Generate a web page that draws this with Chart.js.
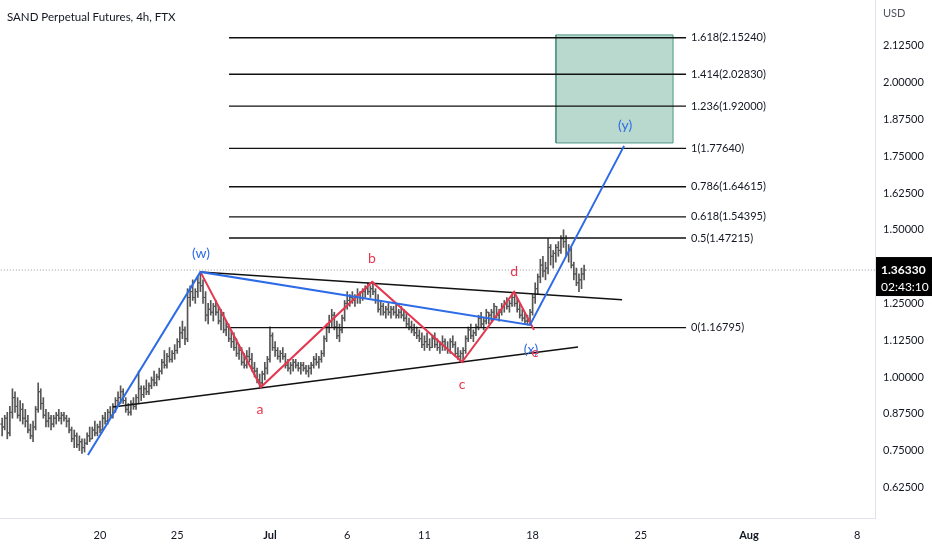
<!DOCTYPE html>
<html>
<head>
<meta charset="utf-8">
<script src="https://cdn.jsdelivr.net/npm/chart.js@4.4.1/dist/chart.umd.min.js"></script>
<style>
  html, body { margin: 0; padding: 0; background: #fff; }
  canvas { display: block; }
</style>
</head>
<body>
<canvas id="sandChart" width="932" height="550"></canvas>
<script>
// SAND perpetual, 4h bars. Time axis is in days counted from Jun 20 00:00.
const barStartDay = -38 / 6; // first bar: Jun 13 16:00

const highs = [
    0.86,0.87,0.88,0.90,0.96,0.95,0.93,0.92,0.91,0.89,
    0.87,0.84,0.85,0.90,0.98,0.96,0.93,0.89,0.88,0.87,
    0.87,0.88,0.89,0.88,0.88,0.87,0.86,0.83,0.82,0.81,
    0.80,0.79,0.79,0.81,0.83,0.83,0.85,0.84,0.85,
    0.87,0.88,0.89,0.90,0.91,0.93,0.95,0.97,0.96,0.93,
    0.91,0.92,0.93,0.94,1.02,0.97,0.97,0.99,0.98,1.00,
    1.02,1.01,1.03,1.06,1.09,1.08,1.10,1.09,1.11,1.13,
    1.17,1.19,1.17,1.30,1.31,1.33,1.30,1.34,1.357,
    1.33,1.29,1.25,1.26,1.25,1.26,1.24,1.23,1.22,1.19,
    1.18,1.16,1.15,1.13,1.11,1.10,1.08,1.09,1.10,1.08,
    1.05,1.03,1.01,1.02,
    1.05,1.07,1.17,1.15,1.12,1.10,1.09,1.10,1.08,1.06,
    1.05,1.06,1.06,1.05,1.05,1.05,1.04,1.04,1.05,1.07,
    1.08,1.07,1.09,1.14,1.18,1.21,1.23,1.22,1.19,1.18,
    1.21,1.26,1.29,1.28,1.29,1.28,1.30,1.29,1.30,1.31,
    1.32,1.31,1.323,
    1.30,1.28,1.26,1.25,1.24,1.25,1.24,1.24,1.25,1.23,
    1.24,1.23,1.22,1.20,1.19,1.18,1.17,1.16,1.15,1.14,
    1.15,1.13,1.14,1.15,1.13,1.12,1.14,1.13,1.12,1.13,
    1.14,1.12,1.10,1.09,1.10,
    1.14,1.17,1.18,1.16,1.18,1.21,1.22,1.20,1.23,1.22,
    1.23,1.25,1.24,1.23,1.25,1.26,1.27,1.26,1.28,1.289,
    1.27,1.25,1.23,1.22,1.21,
    1.23,1.28,1.32,1.35,1.40,1.41,1.39,1.47,1.45,1.43,
    1.45,1.46,1.48,1.50,1.48,1.45,1.44,1.39,1.37,1.35,
    1.37,1.38
];
const lows = [
    0.80,0.82,0.79,0.80,0.86,0.88,0.86,0.85,0.84,0.83,
    0.81,0.79,0.78,0.82,0.88,0.89,0.86,0.83,0.83,0.82,
    0.83,0.84,0.85,0.84,0.85,0.83,0.81,0.78,0.76,0.76,
    0.75,0.74,0.745,0.77,0.78,0.79,0.80,0.80,0.81,
    0.82,0.84,0.84,0.86,0.86,0.88,0.90,0.91,0.91,0.88,
    0.87,0.87,0.89,0.89,0.91,0.92,0.93,0.94,0.94,0.96,
    0.97,0.97,0.99,1.01,1.03,1.03,1.05,1.05,1.06,1.08,
    1.10,1.13,1.11,1.12,1.24,1.26,1.25,1.27,1.29,
    1.25,1.19,1.18,1.21,1.19,1.21,1.18,1.16,1.15,1.14,
    1.12,1.10,1.09,1.07,1.06,1.04,1.03,1.03,1.05,1.02,
    1.00,0.98,0.966,0.97,
    0.99,1.01,1.05,1.09,1.07,1.06,1.05,1.06,1.03,1.02,
    1.01,1.02,1.03,1.02,1.01,1.02,1.01,1.00,1.01,1.03,
    1.04,1.03,1.05,1.07,1.12,1.15,1.17,1.16,1.13,1.12,
    1.15,1.19,1.23,1.24,1.25,1.24,1.25,1.25,1.26,1.27,
    1.28,1.27,1.28,
    1.25,1.22,1.21,1.21,1.20,1.21,1.20,1.21,1.20,1.20,
    1.20,1.19,1.17,1.16,1.15,1.14,1.13,1.12,1.10,1.09,
    1.10,1.09,1.10,1.10,1.09,1.08,1.09,1.09,1.08,1.08,
    1.10,1.07,1.06,1.05,1.051,
    1.08,1.12,1.13,1.12,1.14,1.16,1.17,1.16,1.18,1.18,
    1.19,1.20,1.20,1.19,1.21,1.22,1.23,1.22,1.24,1.24,
    1.22,1.20,1.19,1.18,1.177,
    1.18,1.21,1.25,1.28,1.32,1.34,1.33,1.35,1.38,1.37,
    1.39,1.41,1.42,1.44,1.41,1.39,1.37,1.33,1.31,1.29,
    1.30,1.33
];
const closes = [
    0.83,0.86,0.81,0.88,0.93,0.90,0.87,0.89,0.86,0.85,
    0.82,0.80,0.83,0.89,0.95,0.91,0.87,0.85,0.86,0.84,
    0.86,0.87,0.86,0.87,0.86,0.85,0.82,0.79,0.80,0.77,
    0.78,0.76,0.775,0.80,0.79,0.82,0.81,0.83,0.82,
    0.86,0.85,0.88,0.87,0.90,0.92,0.93,0.95,0.92,0.89,
    0.88,0.91,0.90,0.93,0.96,0.94,0.96,0.95,0.97,0.99,
    0.98,1.00,1.02,1.05,1.04,1.07,1.06,1.08,1.09,1.12,
    1.15,1.16,1.13,1.27,1.29,1.27,1.29,1.32,1.31,
    1.27,1.21,1.23,1.22,1.24,1.22,1.19,1.21,1.16,1.17,
    1.13,1.12,1.10,1.08,1.09,1.05,1.04,1.07,1.06,1.03,
    1.02,0.99,0.98,1.01,
    1.03,1.06,1.14,1.10,1.09,1.07,1.08,1.07,1.04,1.03,
    1.04,1.05,1.04,1.03,1.04,1.03,1.02,1.03,1.04,1.06,
    1.05,1.06,1.08,1.13,1.17,1.19,1.21,1.17,1.14,1.16,
    1.20,1.25,1.26,1.27,1.26,1.27,1.28,1.27,1.29,1.30,
    1.29,1.30,1.29,
    1.26,1.23,1.24,1.22,1.23,1.22,1.23,1.22,1.21,1.22,
    1.21,1.20,1.18,1.17,1.16,1.15,1.14,1.13,1.11,1.12,
    1.11,1.10,1.13,1.11,1.10,1.11,1.12,1.10,1.09,1.12,
    1.11,1.08,1.07,1.08,1.09,
    1.13,1.16,1.14,1.15,1.17,1.20,1.18,1.19,1.22,1.21,
    1.22,1.24,1.21,1.22,1.24,1.25,1.24,1.25,1.27,1.25,
    1.23,1.21,1.20,1.19,1.19,
    1.22,1.27,1.30,1.34,1.38,1.36,1.37,1.44,1.41,1.42,
    1.44,1.43,1.47,1.46,1.42,1.43,1.38,1.35,1.32,1.33,
    1.35,1.3633
];
const firstOpen = 0.84;

const xTickDays = [0, 5, 11, 16, 21, 28, 35, 42, 49];
const xTickLabels = ['20', '25', 'Jul', '6', '11', '18', '25', 'Aug', '8'];
const yTicks = [0.625, 0.75, 0.875, 1.0, 1.125, 1.25, 1.375, 1.5, 1.625, 1.75, 1.875, 2.0, 2.125];

// Fibonacci extension levels
const fibRatios = ['0', '0.5', '0.618', '0.786', '1', '1.236', '1.414', '1.618'];
const fibPrices = [1.16795, 1.47215, 1.54395, 1.64615, 1.7764, 1.92, 2.0283, 2.1524];
const fibSpanDays = [8.35, 37.93];

// Target zone
const zoneDays = [29.51, 37.09];
const zonePrices = [1.795, 2.162];

// Wave counts
const blueWaveDays = [-0.78, 6.5, 27.83, 33.92];
const blueWavePrices = [0.735, 1.357, 1.177, 1.785];
const blueLabels = ['(w)', '(x)', '(y)'];
const blueLabelDays = [6.54, 27.9, 33.98];
const blueLabelPrices = [1.421, 1.095, 1.853];

const redWaveDays = [6.5, 10.42, 17.61, 23.43, 26.80, 28.09];
const redWavePrices = [1.357, 0.966, 1.323, 1.051, 1.289, 1.160];
const redLabels = ['a', 'b', 'c', 'd', 'e'];
const redLabelDays = [10.36, 17.6, 23.43, 26.8, 28.16];
const redLabelPrices = [0.891, 1.401, 0.973, 1.360, 1.082];

// Triangle boundaries
const upperEdgeDays = [6.5, 33.79];
const upperEdgePrices = [1.357, 1.262];
const lowerEdgeDays = [0.84, 30.94];
const lowerEdgePrices = [0.898, 1.102];

const countdown = '02:43:10';

const FONT = "'Lato', 'Open Sans', sans-serif";
const BAR_COLOR = '#555555';
const BLUE = '#2e6be6';
const RED = '#e5374f';

const barDays = closes.map((c, i) => barStartDay + i / 6);
const opens = closes.map((c, i) => i === 0 ? firstOpen : closes[i - 1]);
const lastClose = closes[closes.length - 1];

const pts = (days, prices) => days.map((d, i) => ({ x: d, y: prices[i] }));

function lineSet(data, color, width, extra) {
    return Object.assign({
        type: 'line',
        data: data,
        borderColor: color,
        borderWidth: width,
        pointRadius: 0,
        fill: false,
        tension: 0
    }, extra || {});
}

const datasets = [
    // high-low stems
    {
        type: 'bar',
        data: barDays.map((d, i) => ({ x: d, y: [lows[i], highs[i]] })),
        backgroundColor: BAR_COLOR,
        borderWidth: 0,
        barThickness: 1,
        grouped: false,
        order: 5
    },
    // open ticks (left) and close ticks (right)
    {
        type: 'line',
        data: barDays.map((d, i) => ({ x: d - 0.065, y: opens[i] })),
        showLine: false,
        pointStyle: 'line',
        pointRadius: 1,
        pointBorderWidth: 1,
        pointBorderColor: BAR_COLOR,
        order: 5
    },
    {
        type: 'line',
        data: barDays.map((d, i) => ({ x: d + 0.065, y: closes[i] })),
        showLine: false,
        pointStyle: 'line',
        pointRadius: 1,
        pointBorderWidth: 1,
        pointBorderColor: BAR_COLOR,
        order: 5
    },
    // last price dotted line
    lineSet(pts([-7, 51], [lastClose, lastClose]), '#9598a1', 1, { borderDash: [1, 2], order: 6 }),
    // target zone
    lineSet(pts(zoneDays, [zonePrices[1], zonePrices[1]]), 'rgba(0,0,0,0)', 0,
        { fill: { value: zonePrices[0] }, backgroundColor: '#b9d9cf', order: 9 }),
    lineSet(pts([zoneDays[0], zoneDays[1], zoneDays[1], zoneDays[0], zoneDays[0]],
        [zonePrices[0], zonePrices[0], zonePrices[1], zonePrices[1], zonePrices[0]]), '#4f9585', 1, { order: 8 }),
    // triangle edges
    lineSet(pts(upperEdgeDays, upperEdgePrices), '#111', 1.5, { order: 3 }),
    lineSet(pts(lowerEdgeDays, lowerEdgePrices), '#111', 1.5, { order: 3 }),
    // wave paths
    lineSet(pts(redWaveDays, redWavePrices), RED, 2, { order: 2 }),
    lineSet(pts(blueWaveDays, blueWavePrices), BLUE, 2, { order: 1 })
];

// fib level lines
fibPrices.forEach(p => {
    datasets.push(lineSet(pts(fibSpanDays, [p, p]), '#111', 1.3, { order: 4 }));
});

const overlayPlugin = {
    id: 'overlay',
    afterDatasetsDraw(chart) {
        const { ctx, scales: { x, y } } = chart;
        ctx.save();

        // fib labels
        ctx.font = '11px ' + FONT;
        ctx.fillStyle = '#131722';
        ctx.textAlign = 'left';
        ctx.textBaseline = 'middle';
        const labelX = x.getPixelForValue(fibSpanDays[1]) + 5;
        fibPrices.forEach((p, i) => {
            ctx.fillText(`${fibRatios[i]}(${p.toFixed(5)})`, labelX, y.getPixelForValue(p));
        });

        // wave labels
        ctx.textAlign = 'center';
        ctx.font = '14px ' + FONT;
        ctx.fillStyle = BLUE;
        blueLabels.forEach((t, i) => {
            ctx.fillText(t, x.getPixelForValue(blueLabelDays[i]), y.getPixelForValue(blueLabelPrices[i]));
        });
        ctx.fillStyle = RED;
        redLabels.forEach((t, i) => {
            ctx.fillText(t, x.getPixelForValue(redLabelDays[i]), y.getPixelForValue(redLabelPrices[i]));
        });
        ctx.restore();
    },
    afterDraw(chart) {
        const { ctx, chartArea, scales: { y } } = chart;
        ctx.save();

        // title
        ctx.font = '11.5px ' + FONT;
        ctx.fillStyle = '#131722';
        ctx.textAlign = 'left';
        ctx.textBaseline = 'middle';
        ctx.fillText('SAND Perpetual Futures, 4h, FTX', 7, 17);

        // currency
        ctx.font = '11px ' + FONT;
        ctx.fillStyle = '#50535e';
        ctx.fillText('USD', chartArea.right + 8, 13);

        // last price badge
        const py = y.getPixelForValue(lastClose);
        ctx.fillStyle = '#000';
        ctx.fillRect(chartArea.right + 1, py - 13, chart.width - chartArea.right - 1, 39);
        ctx.fillStyle = '#fff';
        ctx.font = 'bold 12px ' + FONT;
        ctx.fillText(lastClose.toFixed(5), chartArea.right + 6, py);
        ctx.font = '12px ' + FONT;
        ctx.fillText(countdown, chartArea.right + 6, py + 17);
        ctx.restore();
    }
};

new Chart(document.getElementById('sandChart'), {
    type: 'line',
    data: { datasets: datasets },
    options: {
        responsive: false,
        animation: false,
        events: [],
        layout: { padding: 0, autoPadding: false },
        plugins: {
            legend: { display: false },
            tooltip: { enabled: false },
            title: { display: false }
        },
        scales: {
            x: {
                type: 'linear',
                min: -6.472,
                max: 50.16,
                offset: false,
                grid: { display: false, drawTicks: false },
                border: { color: '#e0e3eb' },
                afterBuildTicks: scale => { scale.ticks = xTickDays.map(v => ({ value: v })); },
                afterFit: scale => { scale.height = 32; scale.paddingLeft = 0; scale.paddingRight = 0; },
                ticks: {
                    padding: 11,
                    maxRotation: 0,
                    autoSkip: false,
                    color: '#131722',
                    font: ctx => ({
                        family: FONT,
                        size: 11,
                        weight: (ctx.tick && (ctx.tick.value === 11 || ctx.tick.value === 42)) ? 'bold' : 'normal'
                    }),
                    callback: v => xTickLabels[xTickDays.indexOf(v)]
                }
            },
            y: {
                type: 'linear',
                position: 'right',
                min: 0.521,
                max: 2.2806,
                grid: { display: false, drawTicks: false },
                border: { color: '#e0e3eb' },
                afterBuildTicks: scale => { scale.ticks = yTicks.map(v => ({ value: v })); },
                afterFit: scale => { scale.width = 57; scale.paddingTop = 0; scale.paddingBottom = 0; },
                ticks: {
                    padding: 8,
                    crossAlign: 'near',
                    color: '#131722',
                    font: { family: FONT, size: 11 },
                    callback: v => v.toFixed(5)
                }
            }
        }
    },
    plugins: [overlayPlugin]
});
</script>
</body>
</html>
